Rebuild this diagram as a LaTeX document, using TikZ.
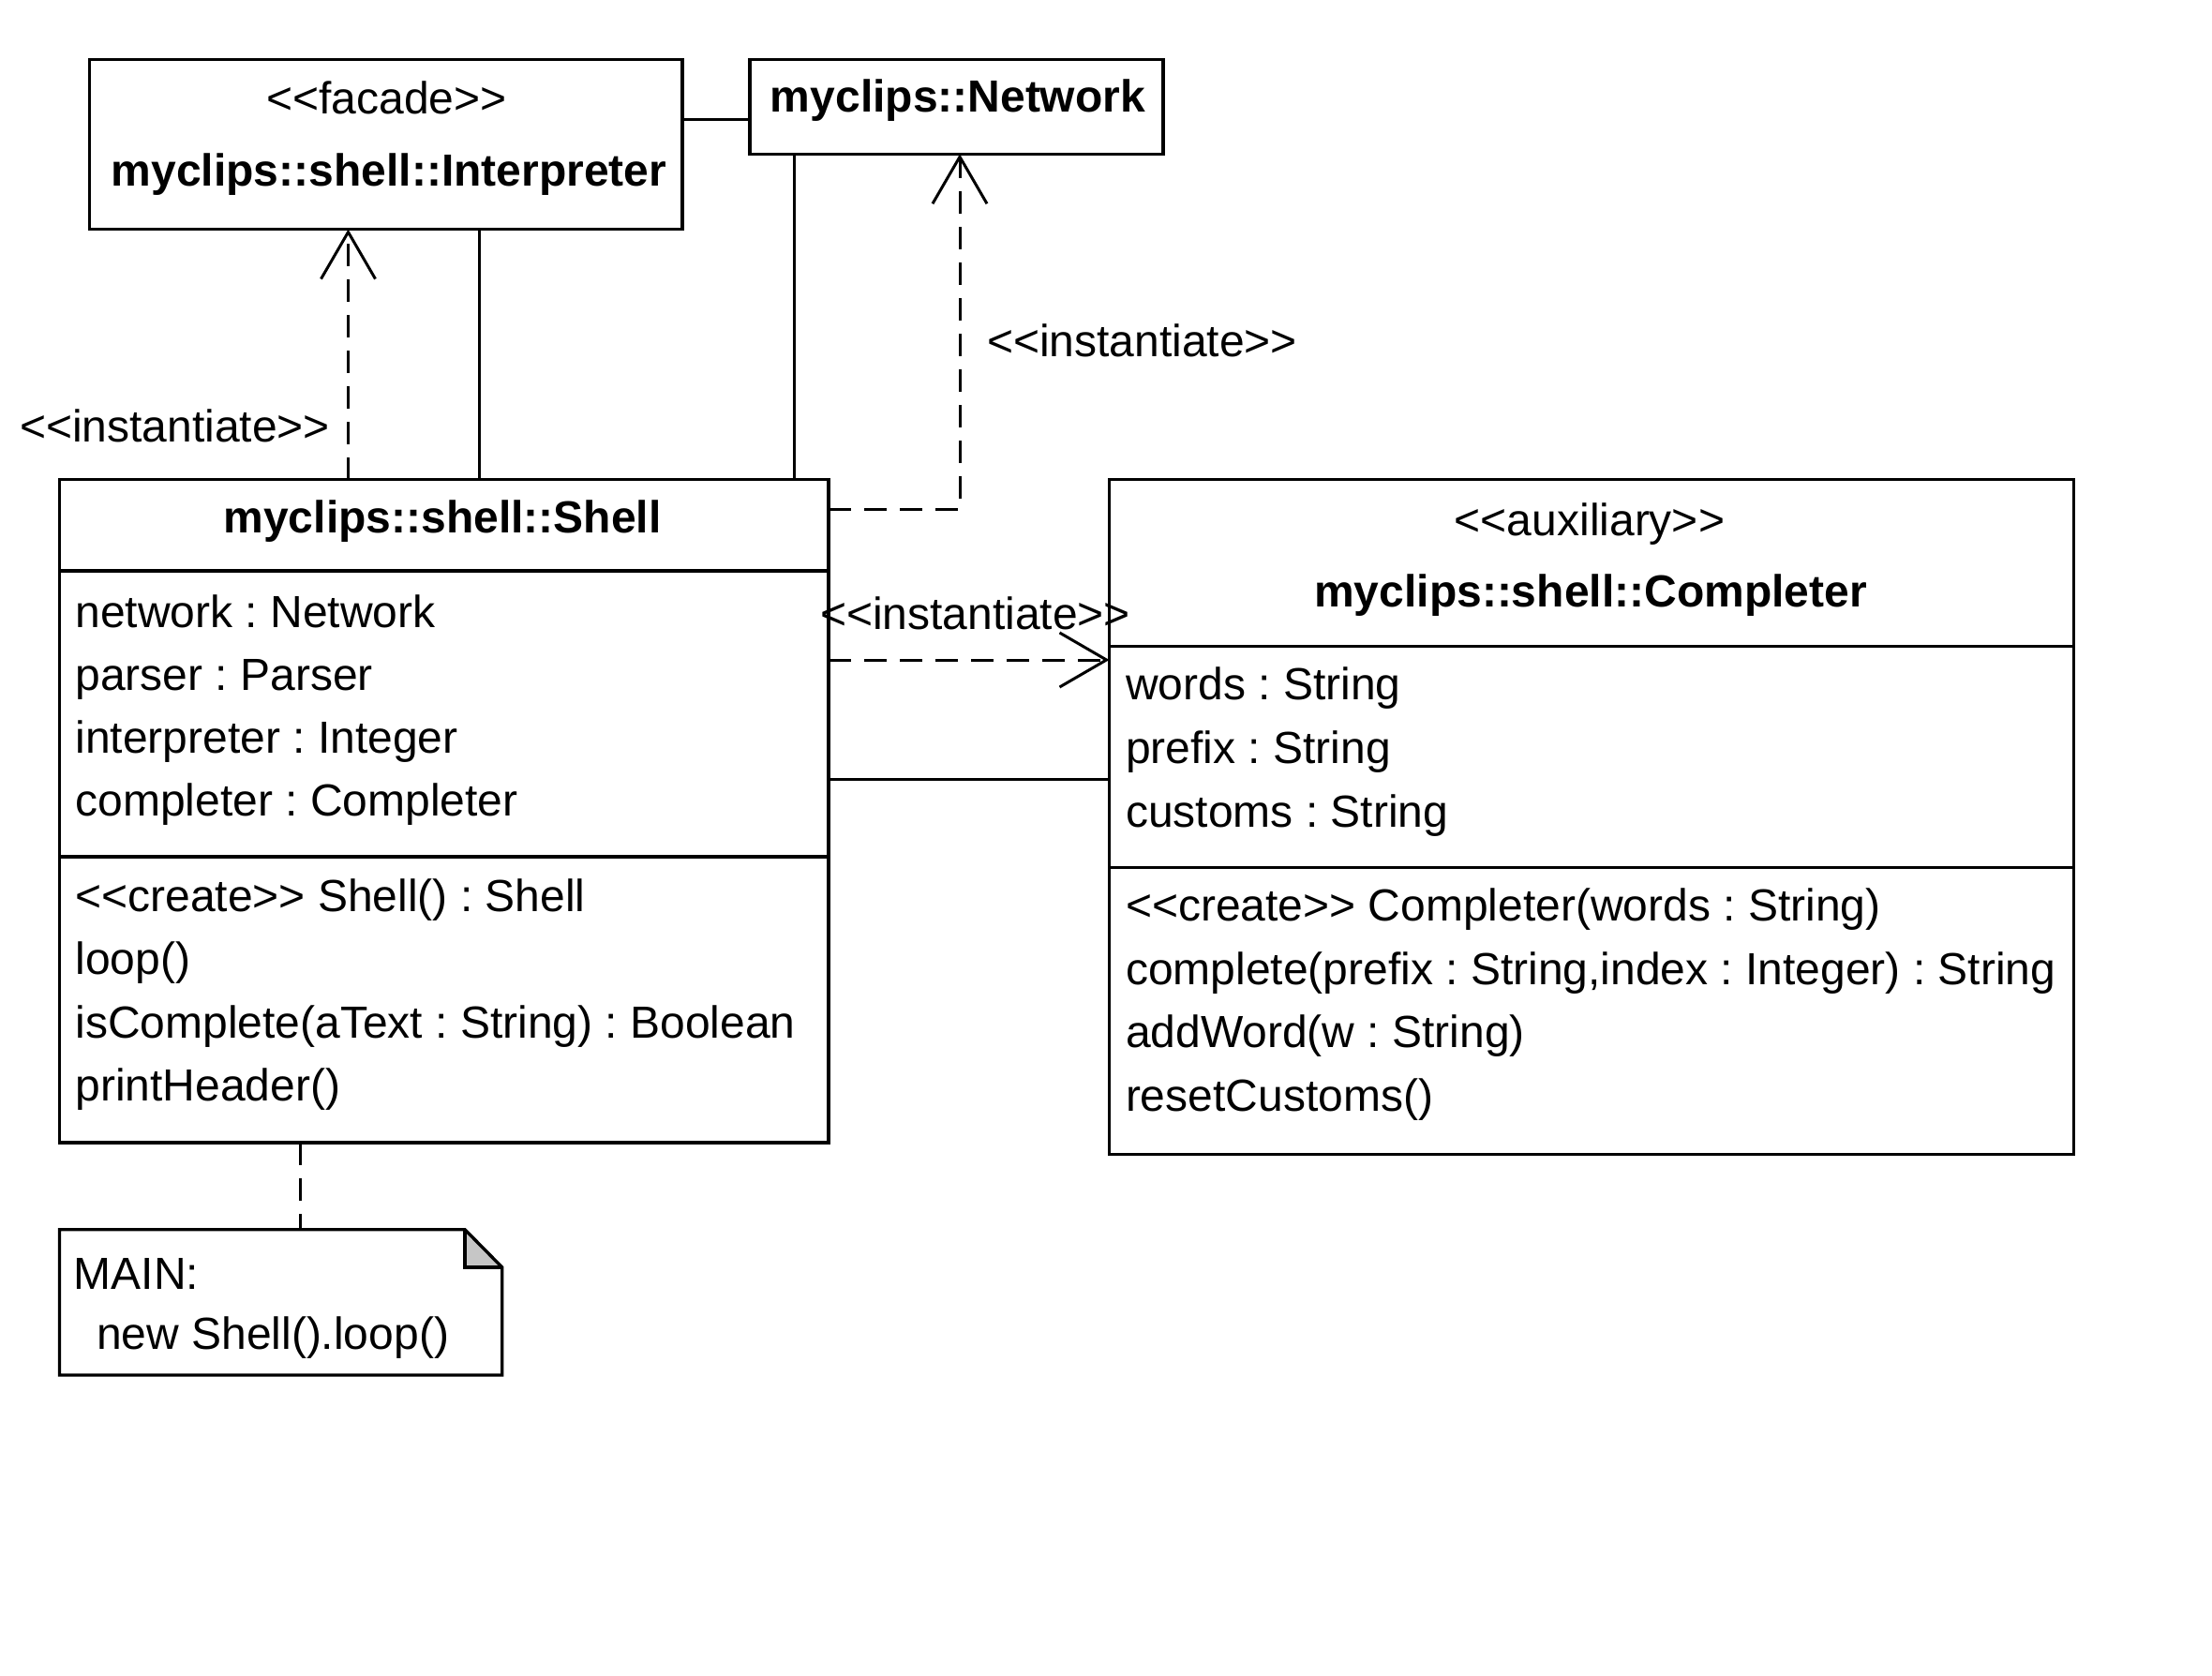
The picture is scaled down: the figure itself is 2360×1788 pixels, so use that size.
\documentclass[tikz,border=0pt]{standalone}
\usepackage{fontspec}
\setmainfont{Liberation Sans}
\usetikzlibrary{arrows.meta}
\newcommand\sLL{<\kern0pt<}
\newcommand\sGG{>\kern0pt>}
\frenchspacing
\begin{document}
\begin{tikzpicture}[x=0.25pt,y=-0.25pt,
  txt/.style={inner sep=0pt,outer sep=0pt,font=\fontsize{12}{14}\selectfont\frenchspacing},
  btxt/.style={txt,font=\fontsize{12}{14}\selectfont\frenchspacing\bfseries},
  box/.style={draw,line width=0.85pt,inner sep=0pt,outer sep=0pt,anchor=north west},
  ghost/.style={inner sep=0pt,outer sep=0pt,anchor=north west},
  conn/.style={line width=0.75pt},
  dep/.style={conn,dash pattern=on 6pt off 3.5pt},
  openarrow/.style={-{Straight Barb[length=12.5pt,width=14.5pt,line width=0.75pt]}}
]
\useasboundingbox (0,0) rectangle (2360,1788);
\fill[white] (0,0) rectangle (2360,1788);

% boxes
\node[box,minimum width=158.15pt,minimum height=45.25pt] (interp) at (95.4,63.6) {};
\node[box,minimum width=110.25pt,minimum height=25.175pt] (network) at (800,63.6) {};
\node[box,minimum width=205.125pt,minimum height=176.875pt] (shell) at (63.5,511.5) {};
\node[box,minimum width=257.25pt,minimum height=180pt] (completer) at (1183.5,511.6) {};
\node[ghost,minimum width=118.05pt,minimum height=38.825pt] (note) at (63.5,1311.7) {};

% compartments
\coordinate (sd1) at (0,609);
\coordinate (sd2) at (0,914);
\draw[line width=0.85pt] (shell.west |- sd1) -- (shell.east |- sd1);
\draw[line width=0.85pt] (shell.west |- sd2) -- (shell.east |- sd2);
\coordinate (cd1) at (0,689.7);
\coordinate (cd2) at (0,925.4);
\draw[line width=0.85pt] (completer.west |- cd1) -- (completer.east |- cd1);
\draw[line width=0.85pt] (completer.west |- cd2) -- (completer.east |- cd2);

% note shape
\coordinate (fA) at (496,1311.7);
\coordinate (fB) at (496,1352);
\coordinate (fC) at (535.7,1352);
\fill[gray!45] (fA) -- (fB) -- (fC) -- cycle;
\draw[line width=0.85pt] (note.north west) -- (fA) -- (fC) -- (note.south east) -- (note.south west) -- cycle;
\draw[line width=0.85pt] (fA) -- (fB) -- (fC);

% texts
\node[txt,anchor=base] (tfac) at (412.5,122) {\sLL facade\sGG};
\node[btxt,anchor=base] (tint) at (415,198) {myclips::shell::Interpreter};
\node[btxt,anchor=base] (tnet) at (1022,119.6) {myclips::Network};
\node[btxt,anchor=base] (tsh) at (472,568) {myclips::shell::Shell};
\node[txt,anchor=base west] (sa1) at (80.4,669) {network : Network};
\node[txt,anchor=base west] (sa2) at (80.4,736) {parser : Parser};
\node[txt,anchor=base west] (sa3) at (80.4,803) {interpreter : Integer};
\node[txt,anchor=base west] (sa4) at (80.4,870) {completer : Completer};
\node[txt,anchor=base west] (so1) at (80.4,972) {\sLL create\sGG{} Shell() : Shell};
\node[txt,anchor=base west] (so2) at (80.4,1039.5) {loop()};
\node[txt,anchor=base west] (so3) at (80.4,1107) {isComplete(aText : String) : Boolean};
\node[txt,anchor=base west] (so4) at (80.4,1174.5) {printHeader()};
\node[txt,anchor=base] (taux) at (1696,571) {\sLL auxiliary\sGG};
\node[btxt,anchor=base] (tco) at (1697,647) {myclips::shell::Completer};
\node[txt,anchor=base west] (ca1) at (1201,746) {words : String};
\node[txt,anchor=base west] (ca2) at (1201,814) {prefix : String};
\node[txt,anchor=base west] (ca3) at (1201,882) {customs : String};
\node[txt,anchor=base west] (co1) at (1201,982.5) {\sLL create\sGG{} Completer(words : String)};
\node[txt,anchor=base west] (co2) at (1201,1050) {complete(prefix : String,index : Integer) : String};
\node[txt,anchor=base west] (co3) at (1201,1117.5) {addWord(w : String)};
\node[txt,anchor=base west] (co4) at (1201,1185) {resetCustoms()};
\node[txt,anchor=base west] (nt1) at (78.8,1375) {MAIN:};
\node[txt,anchor=base west] (nt2) at (103,1439) {new Shell().loop()};

% connectors
\coordinate (yIN) at (0,127.5);
\draw[conn] (interp.east |- yIN) -- (network.west |- yIN);
\coordinate (xI) at (511.6,0);
\draw[conn] (xI |- shell.north) -- (xI |- interp.south);
\coordinate (xN) at (847,0);
\draw[conn] (xN |- shell.north) -- (xN |- network.south);
\coordinate (xD1) at (371.5,0);
\draw[dep,openarrow] (xD1 |- shell.north) -- (xD1 |- interp.south);
\node[txt,anchor=base east] (lab1) at (352,471) {\sLL instantiate\sGG};
\coordinate (cSN) at (1024,543.6);
\draw[dep,openarrow] (shell.east |- cSN) -- (cSN) -- (cSN |- network.south);
\node[txt,anchor=base west] (lab2) at (1053,380) {\sLL instantiate\sGG};
\coordinate (yC1) at (0,704);
\draw[dep,openarrow] (shell.east |- yC1) -- (completer.west |- yC1);
\node[txt,anchor=base west] (lab3) at (875,671) {\sLL instantiate\sGG};
\coordinate (yC2) at (0,831);
\draw[conn] (shell.east |- yC2) -- (completer.west |- yC2);
\coordinate (xNo) at (320,0);
\draw[dep] (xNo |- shell.south) -- (xNo |- note.north);
\end{tikzpicture}
\end{document}
